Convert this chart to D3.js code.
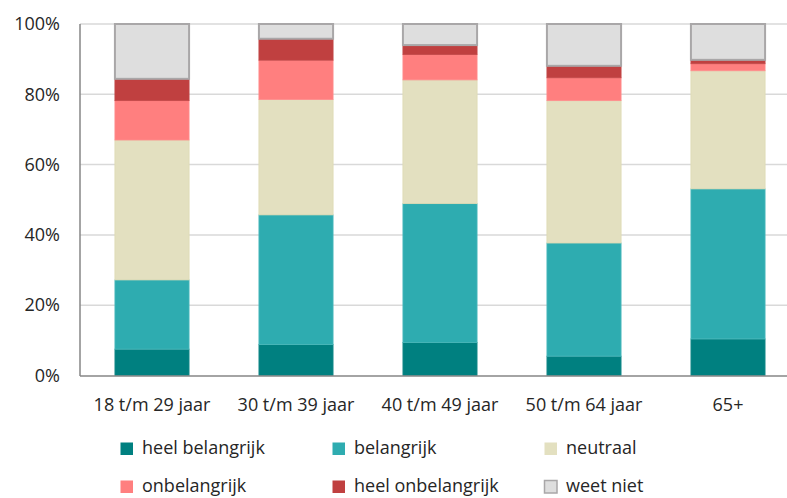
<!DOCTYPE html>
<html>
<head>
<meta charset="utf-8">
<script src="https://cdn.jsdelivr.net/npm/d3@7"></script>
<style>
  body { margin: 0; background: #fff; }
  svg text { font-family: "Open Sans", "Liberation Sans", Arial, sans-serif; fill: #262626; }
</style>
</head>
<body>
<svg id="chart" width="787" height="498"></svg>
<script>
var categories = ["18 t/m 29 jaar", "30 t/m 39 jaar", "40 t/m 49 jaar", "50 t/m 64 jaar", "65+"];
var seriesNames = ["heel belangrijk", "belangrijk", "neutraal", "onbelangrijk", "heel onbelangrijk", "weet niet"];
var heelBelangrijk   = [7.5, 8.8, 9.4, 5.5, 10.4];
var belangrijk       = [19.7, 36.9, 39.5, 32.2, 42.7];
var neutraal         = [39.8, 32.8, 35.2, 40.5, 33.6];
var onbelangrijk     = [11.2, 11.2, 7.2, 6.5, 2.0];
var heelOnbelangrijk = [6.2, 6.1, 2.7, 3.4, 1.1];
var weetNiet         = [15.6, 4.2, 6.0, 11.9, 10.2];
var yTicks = [0, 20, 40, 60, 80, 100];

var colors = ["#008080", "#2eacb0", "#e3e0c0", "#ff7f7f", "#c04040", "#dedede"];
var strokes = ["#1a8c8c", "#4db9bc", "#ddd9b2", "#ff8e8e", "#c24848", "#a9a7a8"];

var values = [heelBelangrijk, belangrijk, neutraal, onbelangrijk, heelOnbelangrijk, weetNiet];
var table = categories.map(function(c, i) {
  var row = {cat: c};
  seriesNames.forEach(function(s, j) { row[s] = values[j][i]; });
  return row;
});
var stacked = d3.stack().keys(seriesNames)(table);

var svg = d3.select("#chart");
var fontSize = "18px";

var x = d3.scaleBand().domain(categories).range([80, 800]).paddingInner(0.485).paddingOuter(0.2425);
var y = d3.scaleLinear().domain([0, 100]).range([375.5, 24]);

// gridlines
svg.append("g").selectAll("line")
  .data(yTicks.slice(1))
  .enter().append("line")
  .attr("x1", 80).attr("x2", 787)
  .attr("y1", function(d) { return y(d); })
  .attr("y2", function(d) { return y(d); })
  .style("stroke", "#d9d9d9")
  .style("stroke-width", 1.5);

// bars
stacked.forEach(function(layer, j) {
  svg.append("g").selectAll("rect")
    .data(layer)
    .enter().append("rect")
    .attr("x", function(d) { return x(d.data.cat); })
    .attr("y", function(d) { return y(d[1]); })
    .attr("width", x.bandwidth())
    .attr("height", function(d) { return y(d[0]) - y(d[1]); })
    .style("fill", colors[j])
    .style("stroke", strokes[j])
    .style("stroke-width", j == 5 ? 2 : 0.8);
});

// axes
var yAxis = d3.axisLeft(y).tickValues(yTicks).tickSize(0).tickPadding(20)
  .tickFormat(function(d) { return d + "%"; });
var gy = svg.append("g").attr("transform", "translate(80,0)").call(yAxis);
gy.select(".domain").remove();
gy.selectAll("text").style("font-size", fontSize).style("fill", "#262626")
  .style("font-family", "Open Sans, Liberation Sans, Arial, sans-serif");

svg.append("line").attr("x1", 80).attr("x2", 80).attr("y1", 24).attr("y2", 376)
  .style("stroke", "#868686").style("stroke-width", 1.5);
svg.append("line").attr("x1", 80).attr("x2", 787).attr("y1", 376).attr("y2", 376)
  .style("stroke", "#868686").style("stroke-width", 1.5);

var xAxis = d3.axisBottom(x).tickSize(0);
var gx = svg.append("g").attr("transform", "translate(0,376)").call(xAxis);
gx.select(".domain").remove();
gx.selectAll("text").attr("y", 35).attr("dy", 0)
  .style("font-size", fontSize).style("fill", "#262626")
  .style("font-family", "Open Sans, Liberation Sans, Arial, sans-serif");

// legend
var legendX = [120, 332, 544];
var legendY = [454, 492];
var legend = svg.append("g").selectAll("g")
  .data(seriesNames)
  .enter().append("g")
  .attr("transform", function(d, i) {
    return "translate(" + legendX[i % 3] + "," + legendY[Math.floor(i / 3)] + ")";
  });
legend.append("rect")
  .attr("x", 0.5).attr("y", -11.5).attr("width", 12.5).attr("height", 12.5)
  .style("fill", function(d, i) { return colors[i]; })
  .style("stroke", function(d, i) { return i == 5 ? "#a9a7a8" : "none"; })
  .style("stroke-width", 1.5);
legend.append("text")
  .attr("x", 22).attr("y", 0)
  .style("font-size", fontSize)
  .text(function(d) { return d; });
</script>
</body>
</html>
